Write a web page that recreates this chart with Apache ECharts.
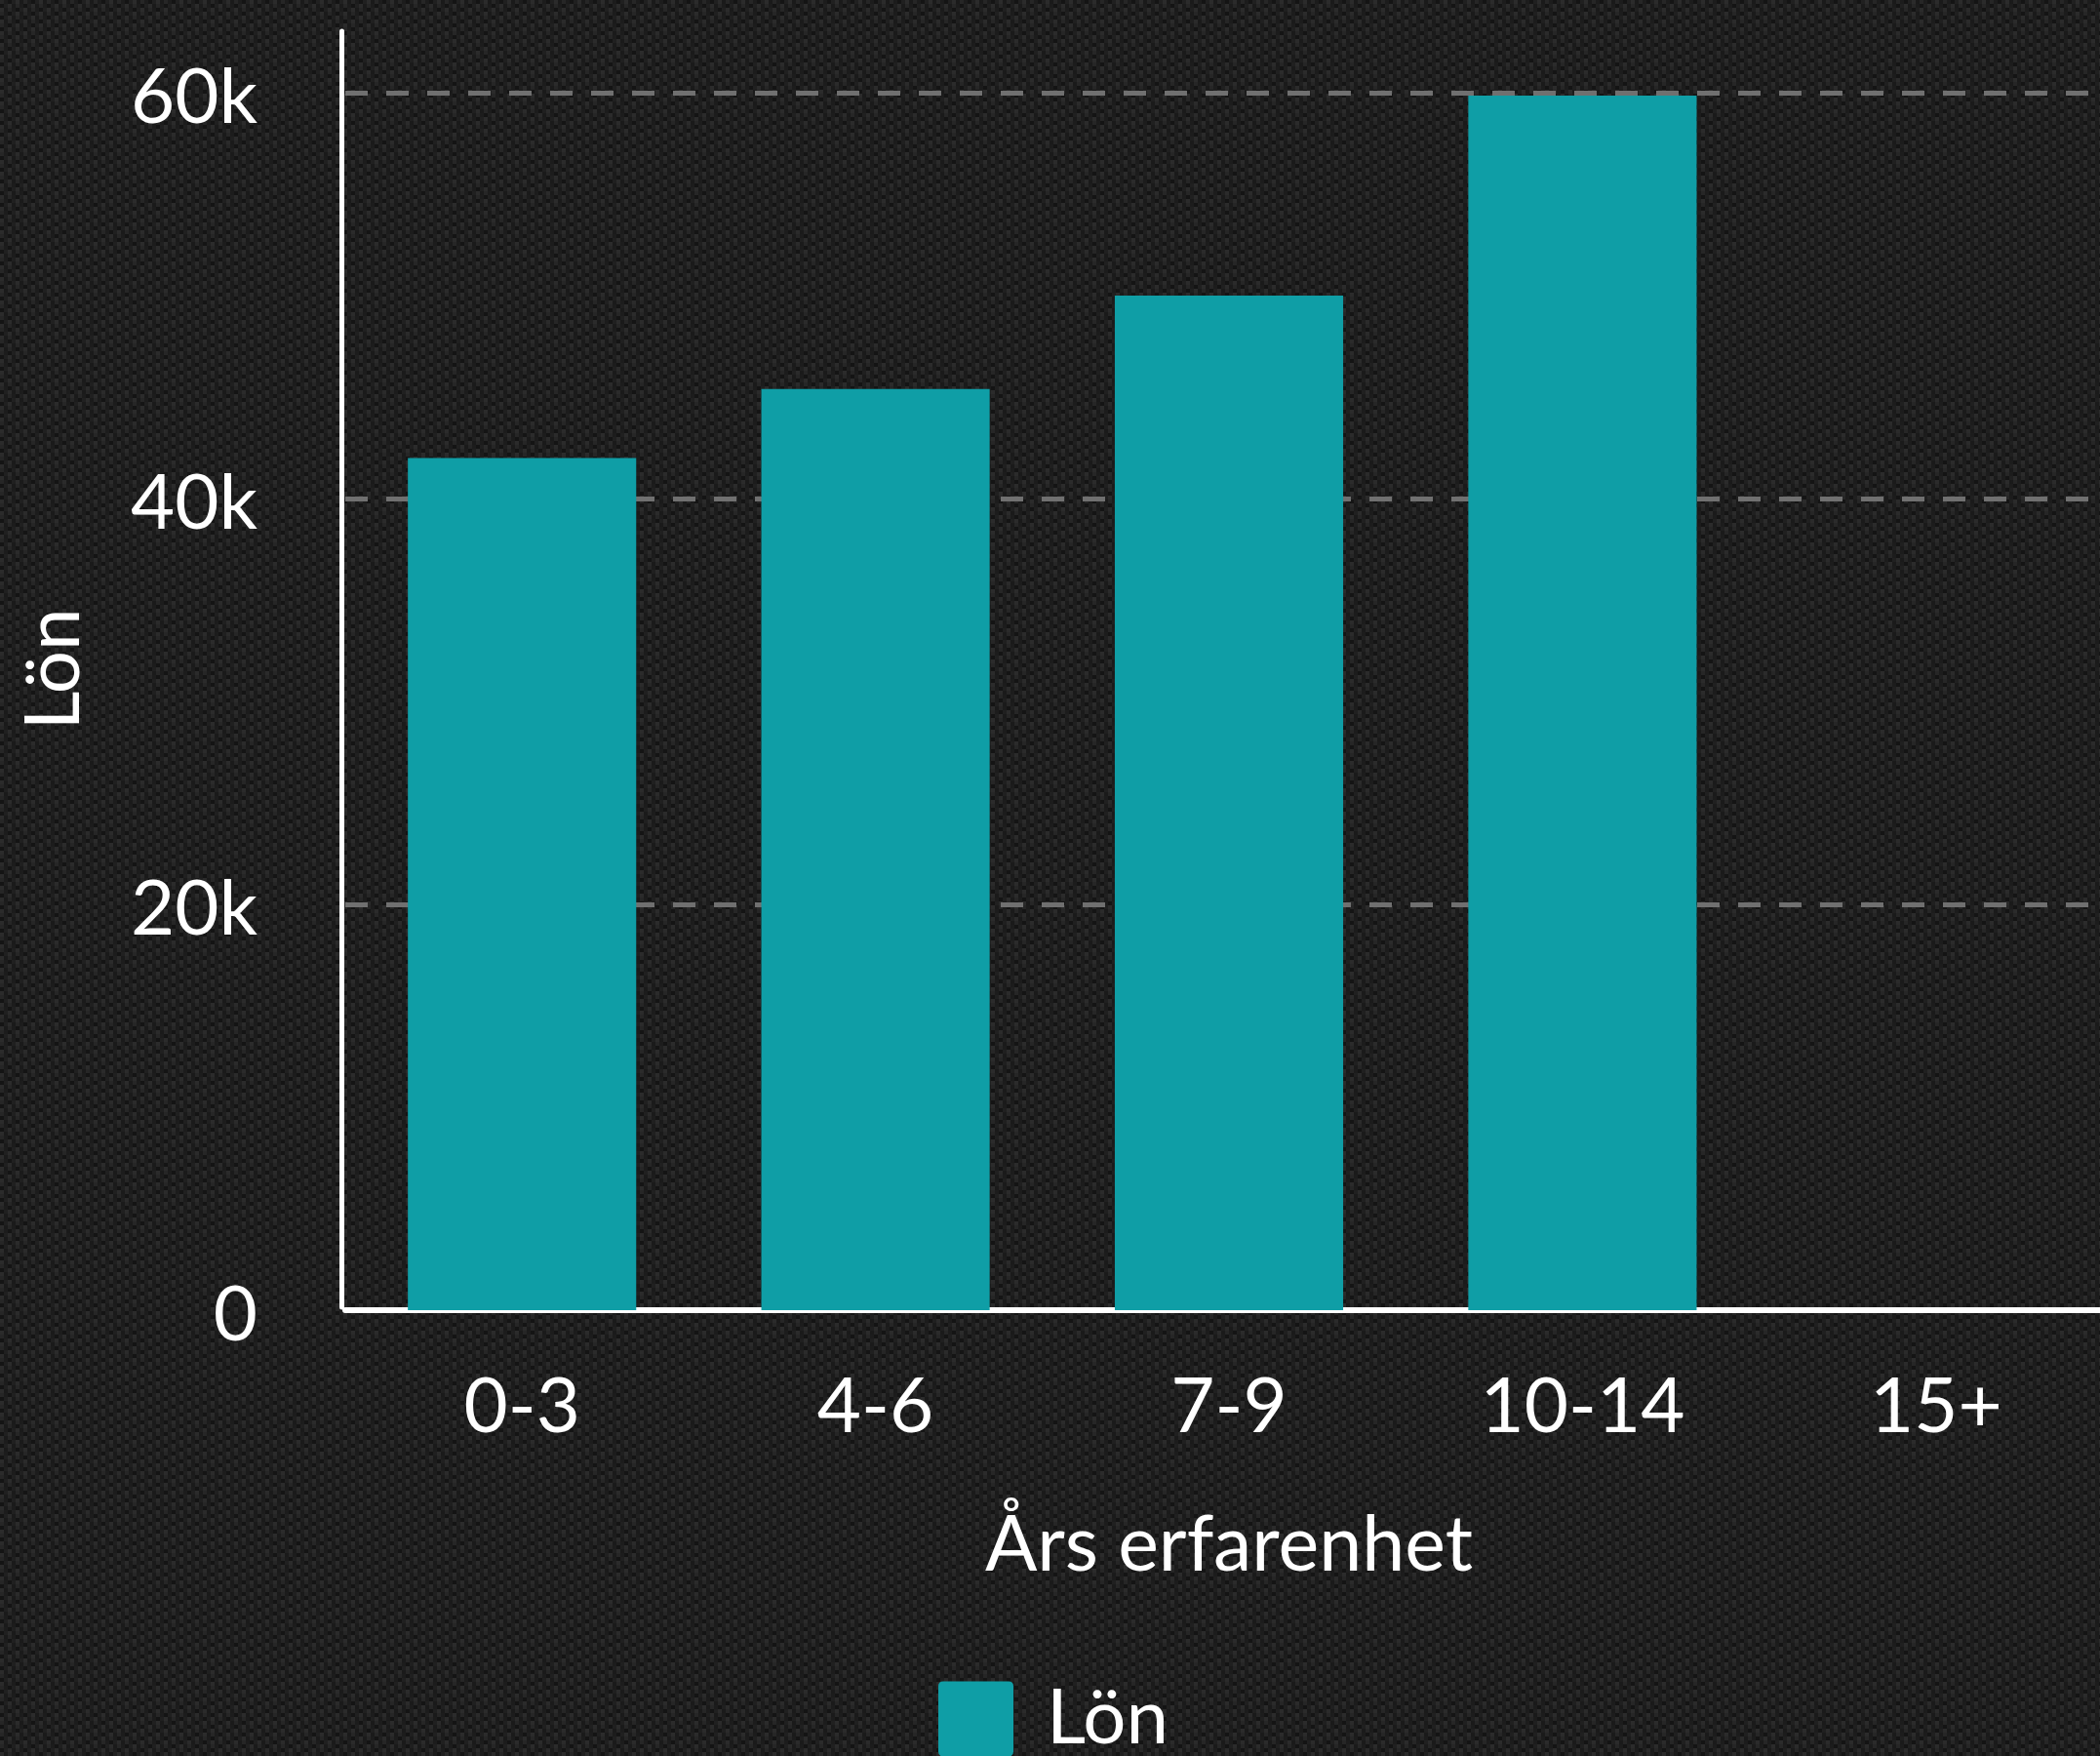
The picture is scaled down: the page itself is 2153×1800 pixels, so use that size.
<!DOCTYPE html>
<html>
<head>
<meta charset="utf-8">
<script src="https://cdn.jsdelivr.net/npm/echarts@6/dist/echarts.min.js"></script>
<style>
html,body{margin:0;padding:0;background:#1e1e1e;}
#chart{width:2153px;height:1800px;}
</style>
</head>
<body>
<div id="chart"></div>
<script>
const categories = ['0-3', '4-6', '7-9', '10-14', '15+'];
const salaryValues = [42000, 45400, 50000, 59850, null];
const yTicks = [0, 20000, 40000, 60000];
const seriesName = 'Lön';
const xAxisName = 'Års erfarenhet';
const yAxisName = 'Lön';

// textured dark background tile (deterministic twill pattern)
function makeTile() {
  const c = document.createElement('canvas');
  const cell = 4, n = 6;
  c.width = c.height = cell * n;
  const ctx = c.getContext('2d');
  const shades = ['#262626', '#1c1c1c', '#141414', '#202020', '#2b2b2b', '#1a1a1a'];
  for (let i = 0; i < n; i++) {
    for (let j = 0; j < n; j++) {
      ctx.fillStyle = shades[(i + j * 2) % n];
      ctx.fillRect(i * cell, j * cell, cell, cell);
    }
  }
  return c;
}

const font = 'Lato, "Noto Sans", sans-serif';
const chart = echarts.init(document.getElementById('chart'), null, {renderer: 'canvas'});
chart.setOption({
  backgroundColor: {image: makeTile(), repeat: 'repeat'},
  animation: false,
  textStyle: {fontFamily: font},
  legend: {
    data: [seriesName],
    left: 957,
    top: 1718,
    icon: 'path://M5,0H72Q77,0 77,5V72Q77,77 72,77H5Q0,77 0,72V5Q0,0 5,0Z',
    itemWidth: 77,
    itemHeight: 77,
    textStyle: {color: '#ffffff', fontSize: 78, fontFamily: font, padding: [12, 0, 0, 29]}
  },
  grid: [
    {left: 354, width: 1812, top: 95, bottom: 457, containLabel: false, outerBoundsMode: 'none'},
    {left: 350, width: 1816, top: 32, bottom: 460, containLabel: false, outerBoundsMode: 'none'}
  ],
  xAxis: [
    {
      type: 'category',
      gridIndex: 0,
      data: categories,
      axisLine: {show: true, lineStyle: {color: '#ffffff', width: 6}},
      axisTick: {show: false},
      axisLabel: {color: '#ffffff', fontSize: 78, fontFamily: font, margin: 61},
      name: xAxisName,
      nameLocation: 'middle',
      nameGap: 202,
      nameTextStyle: {color: '#ffffff', fontSize: 79, fontFamily: font}
    },
    {type: 'category', gridIndex: 1, data: categories, show: false}
  ],
  yAxis: [
    {
      type: 'value',
      gridIndex: 0,
      min: yTicks[0],
      max: yTicks[yTicks.length - 1],
      interval: yTicks[1] - yTicks[0],
      axisLine: {show: false},
      axisTick: {show: false},
      axisLabel: {
        margin: 90,
        formatter: v => '{v|' + (v === 0 ? '0' : (v / 1000) + 'k') + '}',
        rich: {
          v: {color: '#ffffff', fontSize: 78, fontFamily: font, padding: [12, 0, 0, 0]}
        }
      },
      splitLine: {show: true, lineStyle: {color: '#707070', width: 5, type: [23, 19]}}
    },
    {
      type: 'value',
      gridIndex: 1,
      min: 0,
      max: 1,
      axisLine: {show: true, lineStyle: {color: '#ffffff', width: 5}},
      axisTick: {show: false},
      axisLabel: {show: false},
      splitLine: {show: false},
      name: yAxisName,
      nameLocation: 'middle',
      nameGap: 255,
      nameTextStyle: {color: '#ffffff', fontSize: 78, fontFamily: font}
    }
  ],
  series: [{
    name: seriesName,
    type: 'bar',
    xAxisIndex: 0,
    yAxisIndex: 0,
    data: salaryValues,
    barWidth: '64.6%',
    itemStyle: {color: '#0f9ea6'}
  }]
});
</script>
</body>
</html>
